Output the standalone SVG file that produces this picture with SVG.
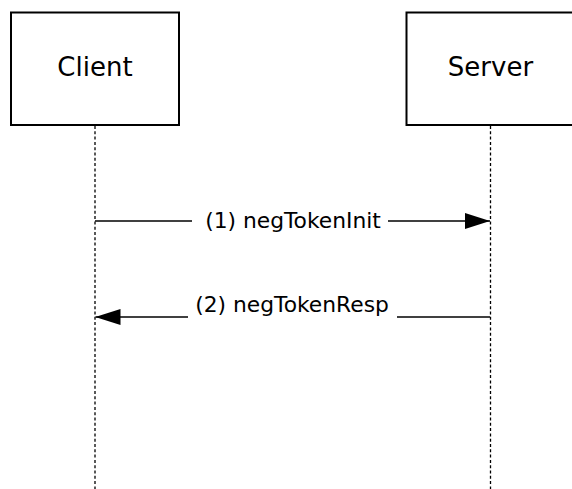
<svg xmlns="http://www.w3.org/2000/svg" width="572" height="489" viewBox="0 0 572 489">
<style>
.box{fill:#fff;stroke:#000;stroke-width:2}
.lbl{font-family:"DejaVu Sans",Verdana,sans-serif;fill:#000}
.life{stroke:#000;stroke-width:1.3;stroke-dasharray:3 2.3;fill:none}
.msg{stroke:#000;stroke-width:1.3;fill:none}
</style>
<defs>
<marker id="ah" markerWidth="25" markerHeight="16" refX="25" refY="8" orient="auto" markerUnits="userSpaceOnUse">
<path d="M0,0 L25,8 L0,16 Z" fill="#000"/>
</marker>
</defs>
<g id="connectors">
<line class="life" x1="95" y1="126" x2="95" y2="489"/>
<line class="life" x1="490.5" y1="126" x2="490.5" y2="489"/>
<line class="msg" x1="95" y1="221" x2="192" y2="221"/>
<line class="msg" x1="388" y1="221" x2="490" y2="221" marker-end="url(#ah)"/>
<text class="lbl" x="293" y="228" font-size="21.8" text-anchor="middle">(1) negTokenInit</text>
<line class="msg" x1="490" y1="317" x2="397" y2="317"/>
<line class="msg" x1="188" y1="317" x2="95.5" y2="317" marker-end="url(#ah)"/>
<text class="lbl" x="292" y="312" font-size="21.8" text-anchor="middle">(2) negTokenResp</text>
</g>
<g id="client">
<rect class="box" x="11" y="12.5" width="168" height="112.5"/>
<text class="lbl" x="95" y="76" font-size="26" text-anchor="middle">Client</text>
</g>
<g id="server">
<rect class="box" x="406.5" y="12.5" width="168" height="112.5"/>
<text class="lbl" x="490.5" y="76" font-size="26" text-anchor="middle">Server</text>
</g>
</svg>
